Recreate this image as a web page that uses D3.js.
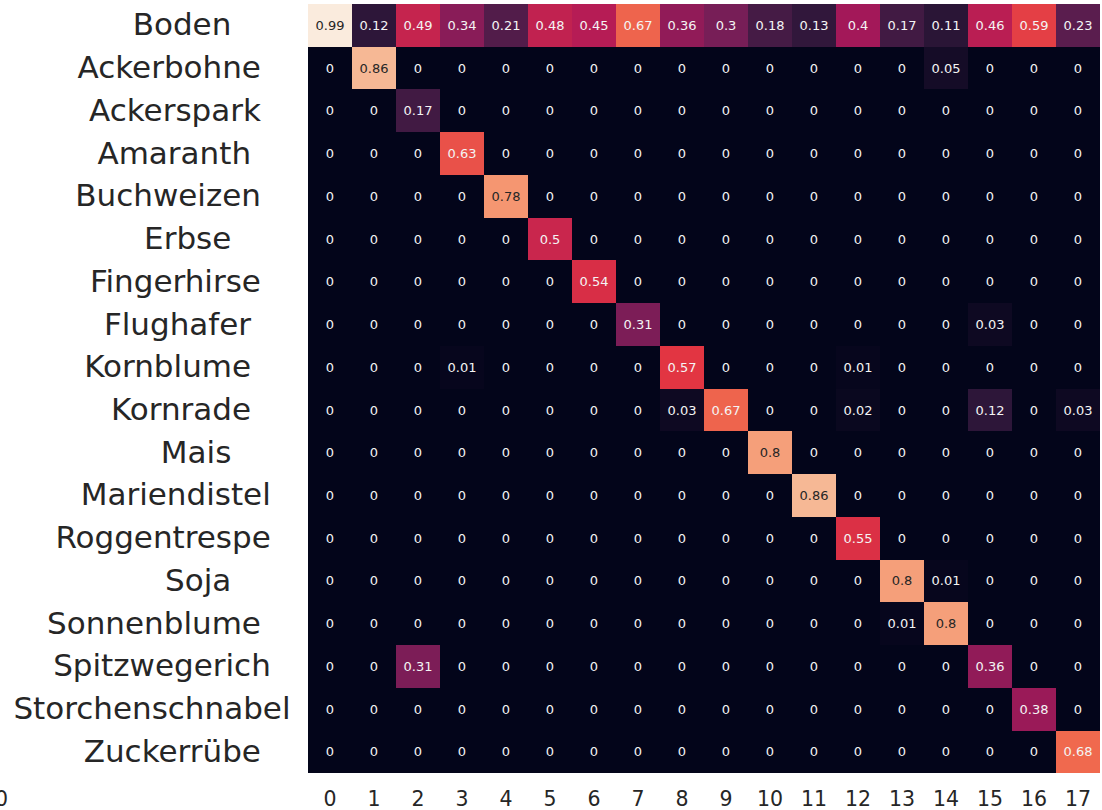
<!DOCTYPE html>
<html>
<head>
<meta charset="utf-8">
<script src="https://cdn.jsdelivr.net/npm/d3@7"></script>
<style>
  html, body { margin: 0; padding: 0; background: #ffffff; }
  svg { display: block; }
  text { font-family: "DejaVu Sans", sans-serif; }
</style>
</head>
<body>
<svg id="chart" width="1102" height="810"></svg>
<script>
// Row categories (true class) and column tick labels (predicted class index)
const rowLabels = [
  "Boden", "Ackerbohne", "Ackerspark", "Amaranth", "Buchweizen", "Erbse",
  "Fingerhirse", "Flughafer", "Kornblume", "Kornrade", "Mais", "Mariendistel",
  "Roggentrespe", "Soja", "Sonnenblume", "Spitzwegerich", "Storchenschnabel", "Zuckerrübe"
];
const colLabels = ["0","1","2","3","4","5","6","7","8","9","10","11","12","13","14","15","16","17"];

// Normalised confusion matrix, one array per row
const cellValues = [
  [0.99, 0.12, 0.49, 0.34, 0.21, 0.48, 0.45, 0.67, 0.36, 0.3, 0.18, 0.13, 0.4, 0.17, 0.11, 0.46, 0.59, 0.23],
  [0, 0.86, 0, 0, 0, 0, 0, 0, 0, 0, 0, 0, 0, 0, 0.05, 0, 0, 0],
  [0, 0, 0.17, 0, 0, 0, 0, 0, 0, 0, 0, 0, 0, 0, 0, 0, 0, 0],
  [0, 0, 0, 0.63, 0, 0, 0, 0, 0, 0, 0, 0, 0, 0, 0, 0, 0, 0],
  [0, 0, 0, 0, 0.78, 0, 0, 0, 0, 0, 0, 0, 0, 0, 0, 0, 0, 0],
  [0, 0, 0, 0, 0, 0.5, 0, 0, 0, 0, 0, 0, 0, 0, 0, 0, 0, 0],
  [0, 0, 0, 0, 0, 0, 0.54, 0, 0, 0, 0, 0, 0, 0, 0, 0, 0, 0],
  [0, 0, 0, 0, 0, 0, 0, 0.31, 0, 0, 0, 0, 0, 0, 0, 0.03, 0, 0],
  [0, 0, 0, 0.01, 0, 0, 0, 0, 0.57, 0, 0, 0, 0.01, 0, 0, 0, 0, 0],
  [0, 0, 0, 0, 0, 0, 0, 0, 0.03, 0.67, 0, 0, 0.02, 0, 0, 0.12, 0, 0.03],
  [0, 0, 0, 0, 0, 0, 0, 0, 0, 0, 0.8, 0, 0, 0, 0, 0, 0, 0],
  [0, 0, 0, 0, 0, 0, 0, 0, 0, 0, 0, 0.86, 0, 0, 0, 0, 0, 0],
  [0, 0, 0, 0, 0, 0, 0, 0, 0, 0, 0, 0, 0.55, 0, 0, 0, 0, 0],
  [0, 0, 0, 0, 0, 0, 0, 0, 0, 0, 0, 0, 0, 0.8, 0.01, 0, 0, 0],
  [0, 0, 0, 0, 0, 0, 0, 0, 0, 0, 0, 0, 0, 0.01, 0.8, 0, 0, 0],
  [0, 0, 0.31, 0, 0, 0, 0, 0, 0, 0, 0, 0, 0, 0, 0, 0.36, 0, 0],
  [0, 0, 0, 0, 0, 0, 0, 0, 0, 0, 0, 0, 0, 0, 0, 0, 0.38, 0],
  [0, 0, 0, 0, 0, 0, 0, 0, 0, 0, 0, 0, 0, 0, 0, 0, 0, 0.68]
];

// "rocket" colour map anchors, evenly spaced from 0 to 1
const rocketStops = ["#03051a", "#35193e", "#701f57", "#ad1759", "#e13342", "#f37651", "#f6b48f", "#faebdd"];

const svg = d3.select("#chart");

const plot = { left: 308, right: 1100, top: 4, bottom: 773.3 };

const x = d3.scaleBand().domain(colLabels).range([plot.left, plot.right]);
const y = d3.scaleBand().domain(rowLabels).range([plot.top, plot.bottom]);

const allValues = cellValues.flat();
const color = d3.scaleSequential()
  .domain([d3.min(allValues), d3.max(allValues)])
  .interpolator(d3.piecewise(d3.interpolateRgb, rocketStops));

const cells = [];
cellValues.forEach((row, i) => row.forEach((v, j) => cells.push({ row: rowLabels[i], col: colLabels[j], value: v })));

// Relative luminance, used to choose dark or light annotation text
function luminance(c) {
  const rgb = d3.rgb(c);
  const lin = [rgb.r, rgb.g, rgb.b].map(u => {
    u /= 255;
    return u <= 0.03928 ? u / 12.92 : Math.pow((u + 0.055) / 1.055, 2.4);
  });
  return 0.2126 * lin[0] + 0.7152 * lin[1] + 0.0722 * lin[2];
}

const fmt = v => String(+v.toPrecision(2));

// Heatmap cells (slightly overlapped so no seams show between them)
svg.append("g")
  .attr("shape-rendering", "crispEdges")
  .selectAll("rect")
  .data(cells)
  .join("rect")
  .attr("x", d => x(d.col))
  .attr("y", d => y(d.row))
  .attr("width", d => d.col === colLabels[colLabels.length - 1] ? x.bandwidth() : x.bandwidth() + 1)
  .attr("height", d => d.row === rowLabels[rowLabels.length - 1] ? y.bandwidth() : y.bandwidth() + 1)
  .attr("fill", d => color(d.value));

// Cell annotations
svg.append("g").selectAll("text")
  .data(cells)
  .join("text")
  .attr("x", d => x(d.col) + x.bandwidth() / 2)
  .attr("y", d => y(d.row) + y.bandwidth() / 2)
  .attr("text-anchor", "middle")
  .attr("dominant-baseline", "central")
  .attr("font-size", 13)
  .attr("fill", d => luminance(color(d.value)) > 0.408 ? "#262626" : "#f4f4f4")
  .text(d => fmt(d.value));

// Row tick labels: centred within a fixed character width, then right aligned
const labelSize = 31;
const spaceWidth = labelSize * 0.318;
const padWidth = d3.max(rowLabels, s => s.length);
const labelRight = plot.left - 17.5;
svg.append("g").selectAll("text")
  .data(rowLabels)
  .join("text")
  .attr("x", d => {
    const pad = padWidth - d.length;
    const trailing = pad - (Math.floor(pad / 2) + (pad & padWidth & 1));
    return labelRight - trailing * spaceWidth;
  })
  .attr("y", d => y(d) + y.bandwidth() / 2 + 10)
  .attr("text-anchor", "end")
  .attr("font-size", labelSize)
  .attr("fill", "#262626")
  .text(d => d);

// Column tick labels
svg.append("g").selectAll("text")
  .data(colLabels)
  .join("text")
  .attr("x", d => x(d) + x.bandwidth() / 2)
  .attr("y", 806)
  .attr("text-anchor", "middle")
  .attr("font-size", 20.5)
  .attr("fill", "#262626")
  .text(d => d);

// Partial tick label at the far left edge
svg.append("text")
  .attr("x", 8)
  .attr("y", 806)
  .attr("text-anchor", "end")
  .attr("font-size", 20.5)
  .attr("fill", "#262626")
  .text("0");
</script>
</body>
</html>
